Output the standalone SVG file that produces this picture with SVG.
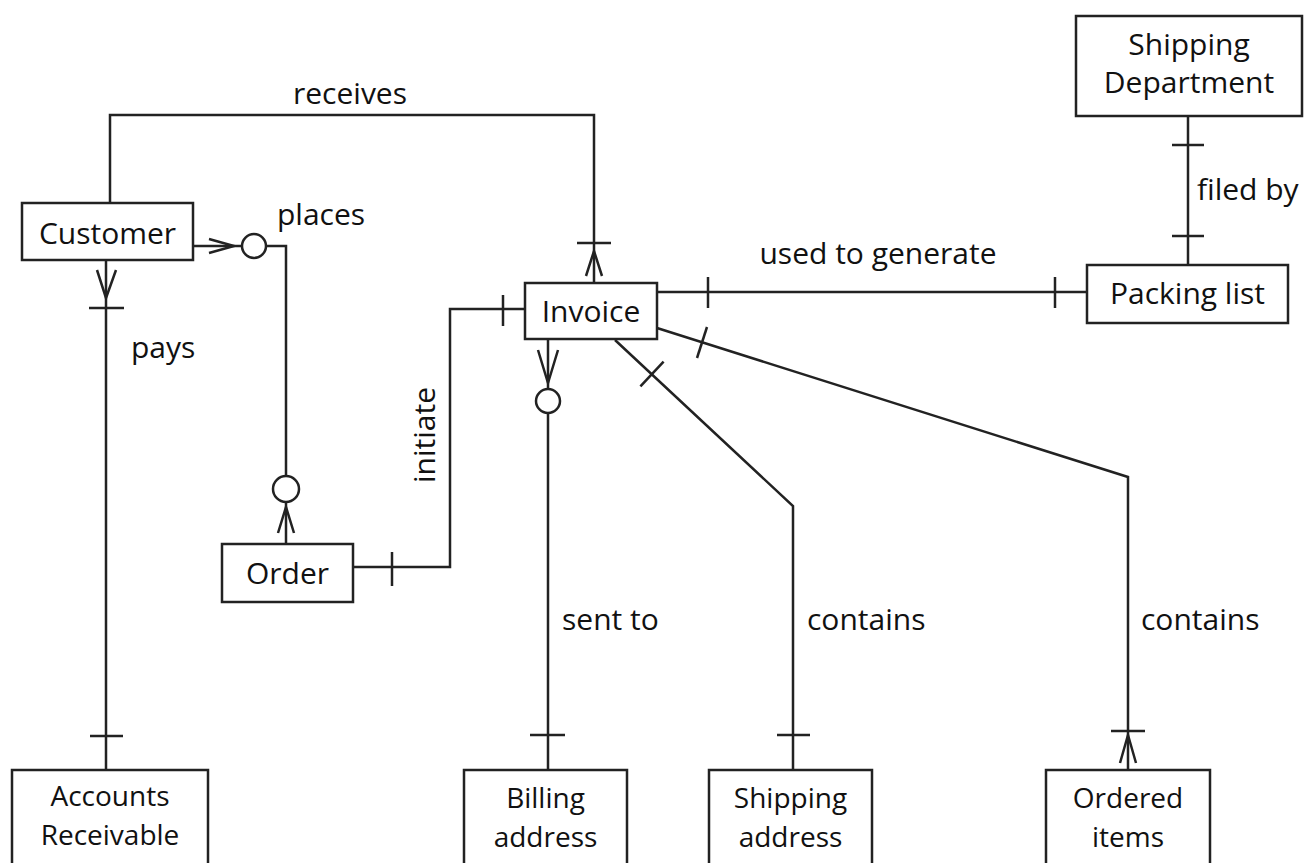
<svg xmlns="http://www.w3.org/2000/svg" width="1312" height="863" viewBox="0 0 1312 863">
  <style>
    .box { fill: #fff; stroke: #222; stroke-width: 2.5; }
    .lbl { font-family: "Open Sans", "Liberation Sans", sans-serif; font-size: 30px; fill: #111; }
    .two { font-size: 28px; }
    .c { text-anchor: middle; }
    #connectors path, #connectors line { fill: none; stroke: #222; stroke-width: 2.5; stroke-linejoin: miter; }
    #connectors circle { fill: #fff; stroke: #222; stroke-width: 2.5; }
  </style>
  <rect width="1312" height="863" fill="#fff"/>

  <g id="connectors">
    <!-- Customer receives Invoice -->
    <path d="M110,203 V115 H594 V283"/>
    <line x1="577" y1="243" x2="611" y2="243"/>
    <path d="M586,276 L594,251 L602,276"/>
    <!-- Customer places Order -->
    <path d="M193,246 H242"/>
    <path d="M209,239 L234,246 L209,253"/>
    <circle cx="254" cy="246" r="12"/>
    <path d="M266,246 H286 V476"/>
    <circle cx="286" cy="489" r="13"/>
    <path d="M286,502 V544"/>
    <path d="M278,533 L286,507 L294,533"/>
    <!-- Customer pays Accounts Receivable -->
    <path d="M106,260 V770"/>
    <path d="M97,270 L106,298 L116,270"/>
    <line x1="89" y1="308" x2="124" y2="308"/>
    <line x1="90" y1="736" x2="123" y2="736"/>
    <!-- Order initiates Invoice -->
    <path d="M353,567 H450 V309 H525"/>
    <line x1="392" y1="552" x2="392" y2="586"/>
    <line x1="503" y1="295" x2="503" y2="326"/>
    <!-- Invoice used to generate Packing list -->
    <path d="M657,292 H1087"/>
    <line x1="708" y1="277" x2="708" y2="308"/>
    <line x1="1055" y1="277" x2="1055" y2="308"/>
    <!-- Shipping Department files Packing list -->
    <path d="M1188,116 V265"/>
    <line x1="1172" y1="145" x2="1204" y2="145"/>
    <line x1="1172" y1="236" x2="1204" y2="236"/>
    <!-- Invoice sent to Billing address -->
    <path d="M548,339 V389"/>
    <path d="M538,350 L548,383 L558,350"/>
    <circle cx="548" cy="401" r="12"/>
    <path d="M548,413 V770"/>
    <line x1="530" y1="735" x2="565" y2="735"/>
    <!-- Invoice contains Shipping address -->
    <path d="M615,340 L793,506 V770"/>
    <line x1="663.6" y1="361.6" x2="640.4" y2="386.4"/>
    <line x1="777" y1="735" x2="810" y2="735"/>
    <!-- Invoice contains Ordered items -->
    <path d="M657,328 L1128,477 V770"/>
    <line x1="707" y1="327" x2="697" y2="358"/>
    <line x1="1111" y1="731" x2="1145" y2="731"/>
    <path d="M1120,763 L1128,735 L1136,763"/>
  </g>

  <g id="connector-labels">
    <text class="lbl c" x="350" y="104">receives</text>
    <text class="lbl" x="277" y="225">places</text>
    <text class="lbl" x="131" y="358">pays</text>
    <text class="lbl c" transform="translate(435,435) rotate(-90)">initiate</text>
    <text class="lbl c" x="878" y="264">used to generate</text>
    <text class="lbl" x="1197" y="200">filed by</text>
    <text class="lbl" x="562" y="630">sent to</text>
    <text class="lbl" x="807" y="630">contains</text>
    <text class="lbl" x="1141" y="630">contains</text>
  </g>

  <g id="customer">
    <rect class="box" x="22" y="203" width="171" height="57"/>
    <text class="lbl c" x="107.5" y="244">Customer</text>
  </g>
  <g id="invoice">
    <rect class="box" x="525" y="283" width="132" height="56"/>
    <text class="lbl c" x="591" y="322">Invoice</text>
  </g>
  <g id="order">
    <rect class="box" x="222" y="544" width="131" height="58"/>
    <text class="lbl c" x="287.5" y="584">Order</text>
  </g>
  <g id="packing-list">
    <rect class="box" x="1087" y="265" width="201" height="58"/>
    <text class="lbl c" x="1187.5" y="304">Packing list</text>
  </g>
  <g id="shipping-department">
    <rect class="box" x="1076" y="16" width="226" height="100"/>
    <text class="lbl c" x="1189" y="55">Shipping</text>
    <text class="lbl c" x="1189" y="93">Department</text>
  </g>
  <g id="accounts-receivable">
    <rect class="box" x="12" y="770" width="196" height="110"/>
    <text class="lbl two c" x="110" y="806">Accounts</text>
    <text class="lbl two c" x="110" y="845">Receivable</text>
  </g>
  <g id="billing-address">
    <rect class="box" x="464" y="770" width="163" height="110"/>
    <text class="lbl two c" x="545.5" y="808">Billing</text>
    <text class="lbl two c" x="545.5" y="847">address</text>
  </g>
  <g id="shipping-address">
    <rect class="box" x="709" y="770" width="163" height="110"/>
    <text class="lbl two c" x="790.5" y="808">Shipping</text>
    <text class="lbl two c" x="790.5" y="847">address</text>
  </g>
  <g id="ordered-items">
    <rect class="box" x="1046" y="770" width="164" height="110"/>
    <text class="lbl two c" x="1128" y="808">Ordered</text>
    <text class="lbl two c" x="1128" y="847">items</text>
  </g>
</svg>
